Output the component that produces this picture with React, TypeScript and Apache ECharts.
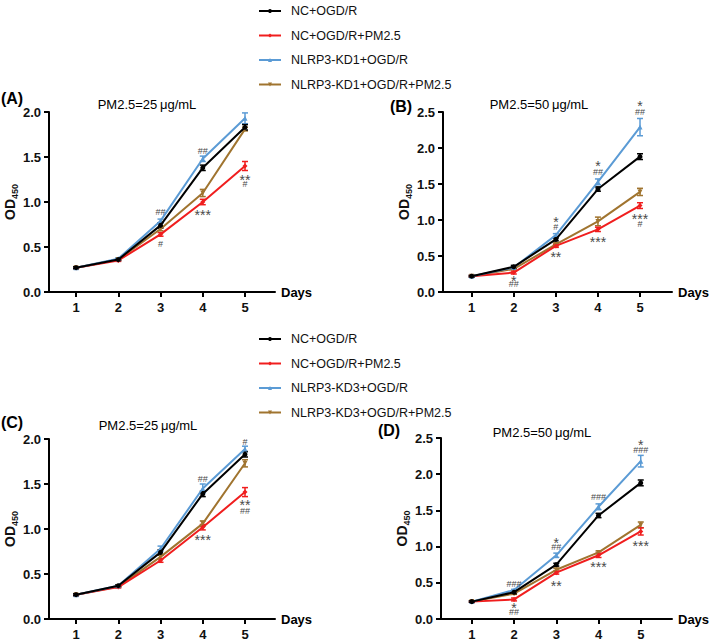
import React, { useEffect, useRef } from "react";
import * as echarts from "echarts";

const days = [1, 2, 3, 4, 5];
const dayTicks = [1, 2, 3, 4, 5];
const namesKD1 = ["NC+OGD/R", "NC+OGD/R+PM2.5", "NLRP3-KD1+OGD/R", "NLRP3-KD1+OGD/R+PM2.5"];
const namesKD3 = ["NC+OGD/R", "NC+OGD/R+PM2.5", "NLRP3-KD3+OGD/R", "NLRP3-KD3+OGD/R+PM2.5"];
const colors = ["#000000", "#f01e1e", "#5b9bd5", "#a0742f"];
const panelLetters = ["(A)", "(B)", "(C)", "(D)"];
const panelTitles = ["PM2.5=25\u2009μg/mL", "PM2.5=50\u2009μg/mL", "PM2.5=25\u2009μg/mL", "PM2.5=50\u2009μg/mL"];
const yMaxes = [2.0, 2.5, 2.0, 2.5];

// Panel A values (NC, NC+PM, KD, KD+PM)
const aNC = [0.27, 0.36, 0.74, 1.38, 1.83];
const aNCPM = [0.27, 0.35, 0.64, 1.0, 1.4];
const aKD = [0.27, 0.37, 0.79, 1.48, 1.93];
const aKDPM = [0.27, 0.36, 0.7, 1.1, 1.81];
const aErrNC = [0.01, 0.01, 0.03, 0.03, 0.03];
const aErrNCPM = [0.01, 0.01, 0.02, 0.03, 0.05];
const aErrKD = [0.01, 0.01, 0.02, 0.03, 0.06];
const aErrKDPM = [0.01, 0.01, 0.02, 0.04, 0.02];

// Panel B
const bNC = [0.22, 0.35, 0.73, 1.43, 1.88];
const bNCPM = [0.22, 0.27, 0.64, 0.87, 1.2];
const bKD = [0.22, 0.34, 0.79, 1.53, 2.29];
const bKDPM = [0.22, 0.32, 0.66, 0.98, 1.39];
const bErrNC = [0.01, 0.02, 0.02, 0.03, 0.04];
const bErrNCPM = [0.01, 0.02, 0.02, 0.03, 0.04];
const bErrKD = [0.01, 0.01, 0.02, 0.04, 0.12];
const bErrKDPM = [0.01, 0.01, 0.02, 0.06, 0.05];

// Panel C
const cNC = [0.27, 0.37, 0.74, 1.39, 1.83];
const cNCPM = [0.27, 0.355, 0.65, 1.02, 1.41];
const cKD = [0.27, 0.37, 0.78, 1.45, 1.89];
const cKDPM = [0.27, 0.36, 0.69, 1.06, 1.73];
const cErrNC = [0.01, 0.01, 0.03, 0.03, 0.03];
const cErrNCPM = [0.01, 0.01, 0.02, 0.03, 0.05];
const cErrKD = [0.01, 0.01, 0.03, 0.05, 0.03];
const cErrKDPM = [0.01, 0.01, 0.02, 0.03, 0.04];

// Panel D
const dNC = [0.24, 0.37, 0.75, 1.43, 1.88];
const dNCPM = [0.24, 0.27, 0.64, 0.88, 1.21];
const dKD = [0.24, 0.4, 0.88, 1.55, 2.18];
const dKDPM = [0.24, 0.35, 0.68, 0.92, 1.3];
const dErrNC = [0.01, 0.02, 0.02, 0.03, 0.04];
const dErrNCPM = [0.01, 0.02, 0.02, 0.03, 0.05];
const dErrKD = [0.01, 0.01, 0.03, 0.04, 0.08];
const dErrKDPM = [0.01, 0.01, 0.02, 0.02, 0.04];

// Significance marks: [day, OD, text]
const annA: [number, number, string][] = [
  [3, 0.885, "##"], [3, 0.53, "#"], [4, 1.57, "##"], [4, 0.89, "***"], [5, 1.28, "**"], [5, 1.2, "#"],
];
const annB: [number, number, string][] = [
  [2, 0.195, "*"], [2, 0.107, "##"], [3, 1.02, "*"], [3, 0.906, "#"], [3, 0.525, "**"],
  [4, 1.79, "*"], [4, 1.67, "##"], [4, 0.743, "***"], [5, 2.62, "*"], [5, 2.5, "##"], [5, 1.06, "***"], [5, 0.95, "#"],
];
const annC: [number, number, string][] = [
  [4, 1.555, "##"], [4, 0.91, "***"], [5, 1.97, "#"], [5, 1.3, "**"], [5, 1.2, "##"],
];
const annD: [number, number, string][] = [
  [2, 0.484, "###"], [2, 0.19, "*"], [2, 0.09, "##"], [3, 1.09, "*"], [3, 0.99, "##"], [3, 0.5, "**"],
  [4, 1.68, "###"], [4, 0.76, "***"], [5, 2.445, "*"], [5, 2.34, "###"], [5, 1.056, "***"],
];

const panels = [
  { vals: [aNC, aNCPM, aKD, aKDPM], errs: [aErrNC, aErrNCPM, aErrKD, aErrKDPM], ann: annA, names: namesKD1 },
  { vals: [bNC, bNCPM, bKD, bKDPM], errs: [bErrNC, bErrNCPM, bErrKD, bErrKDPM], ann: annB, names: namesKD1 },
  { vals: [cNC, cNCPM, cKD, cKDPM], errs: [cErrNC, cErrNCPM, cErrKD, cErrKDPM], ann: annC, names: namesKD3 },
  { vals: [dNC, dNCPM, dKD, dKDPM], errs: [dErrNC, dErrNCPM, dErrKD, dErrKDPM], ann: annD, names: namesKD3 },
];

// Layout (pixels)
const grids = [
  { left: 49, top: 112, width: 226, height: 180, xMin: 0.36, xMax: 5.71 },
  { left: 443, top: 112, width: 229, height: 180, xMin: 0.318, xMax: 5.76 },
  { left: 49, top: 439, width: 226, height: 180, xMin: 0.36, xMax: 5.71 },
  { left: 441, top: 438, width: 231, height: 181, xMin: 0.27, xMax: 5.74 },
];
const letterPos = [[12, 98], [401, 106], [12, 422], [389, 430]];
const titlePos = [[147, 104], [539, 104], [148, 425], [542, 432]];

const symbols = ["circle", "diamond", "triangle", "path://M0,0 L10,0 L5,9 Z"];
const symbolSizes = [5, 5, 5, 5];
const drawOrder = [3, 1, 2, 0];
const FONT = "Liberation Sans, Arial, sans-serif";

export default function App() {
  const ref = useRef<HTMLDivElement>(null);
  useEffect(() => {
    if (!ref.current) return;
    const chart = echarts.init(ref.current, undefined, { renderer: "svg" });

    const gridOpt = grids.map((g) => ({
      left: g.left, top: g.top, width: g.width, height: g.height,
      containLabel: false, outerBoundsMode: "none",
    }));
    const xAxes = grids.map((g, i) => ({
      type: "value", gridIndex: i, min: g.xMin, max: g.xMax,
      name: "Days", nameLocation: "end", nameGap: 6,
      nameTextStyle: { fontFamily: FONT, fontWeight: "bold", fontSize: 13, color: "#000", verticalAlign: "middle" },
      axisLine: { show: true, onZero: false, lineStyle: { color: "#000", width: 2 } },
      axisTick: { show: true, length: 5, lineStyle: { color: "#000", width: 2 }, customValues: dayTicks },
      axisLabel: { show: true, customValues: dayTicks, margin: 9, fontFamily: FONT, fontWeight: "bold", fontSize: 13, color: "#111", formatter: (v: number) => String(v) },
      splitLine: { show: false },
    }));
    const yAxes = grids.map((g, i) => ({
      type: "value", gridIndex: i, min: 0, max: yMaxes[i], interval: 0.5,
      name: "{a|OD}{b|450}", nameLocation: "middle", nameGap: 30, nameRotate: 90,
      nameTextStyle: {
        rich: {
          a: { fontFamily: FONT, fontWeight: "bold", fontSize: 14, color: "#111", lineHeight: 18, verticalAlign: "middle" },
          b: { fontFamily: FONT, fontWeight: "bold", fontSize: 9, color: "#111", lineHeight: 18, verticalAlign: "bottom", padding: [6, 0, 0, 0] },
        },
      },
      axisLine: { show: true, onZero: false, lineStyle: { color: "#000", width: 2 } },
      axisTick: { show: true, length: 5, lineStyle: { color: "#000", width: 2 } },
      axisLabel: { margin: 8, fontFamily: FONT, fontWeight: "bold", fontSize: 13, color: "#111", formatter: (v: number) => v.toFixed(1) },
      splitLine: { show: false },
    }));

    const series: any[] = [];
    panels.forEach((p, pi) => {
      const errData: number[][] = [];
      drawOrder.forEach((si) => {
        days.forEach((d, di) => errData.push([d, p.vals[si][di], p.errs[si][di], si]));
      });
      series.push({
        type: "custom", xAxisIndex: pi, yAxisIndex: pi, data: errData, z: 3, silent: true,
        encode: { x: 0, y: 1 },
        renderItem: (_params: any, api: any) => {
          const x = api.value(0), y = api.value(1), e = api.value(2), c = api.value(3);
          const hi = api.coord([x, y + e]);
          const lo = api.coord([x, y - e]);
          const st = { stroke: colors[c], lineWidth: 1.5 };
          const w = 3;
          return {
            type: "group",
            children: [
              { type: "line", shape: { x1: hi[0], y1: hi[1], x2: lo[0], y2: lo[1] }, style: st },
              { type: "line", shape: { x1: hi[0] - w, y1: hi[1], x2: hi[0] + w, y2: hi[1] }, style: st },
              { type: "line", shape: { x1: lo[0] - w, y1: lo[1], x2: lo[0] + w, y2: lo[1] }, style: st },
            ],
          };
        },
      });
      drawOrder.forEach((si, k) => {
        series.push({
          type: "line", name: p.names[si], xAxisIndex: pi, yAxisIndex: pi,
          data: days.map((d, di) => [d, p.vals[si][di]]),
          symbol: symbols[si], symbolSize: symbolSizes[si], showSymbol: true,
          lineStyle: { color: colors[si], width: 2 },
          itemStyle: { color: colors[si], borderWidth: 0 },
          z: 4 + k, silent: true,
        });
      });
      const ann = p.ann;
      series.push({
        type: "custom", xAxisIndex: pi, yAxisIndex: pi, z: 10, silent: true,
        data: ann.map((a) => [a[0], a[1]]),
        encode: { x: 0, y: 1 },
        renderItem: (params: any, api: any) => {
          const pt = api.coord([api.value(0), api.value(1)]);
          const txt = ann[params.dataIndex][2];
          const star = txt.indexOf("*") >= 0;
          return {
            type: "text", x: pt[0], y: pt[1] + (star ? 3 : 0),
            style: {
              text: txt, fill: "#4a4a4a", align: "center", verticalAlign: "middle",
              font: (star ? "14px " : "9px ") + FONT,
            },
          };
        },
      });
    });

    const graphics: any[] = [];
    letterPos.forEach((lp, i) => {
      graphics.push({
        type: "text", x: lp[0], y: lp[1],
        style: { text: panelLetters[i], fill: "#000", font: "bold 16px " + FONT, align: "center", verticalAlign: "middle" },
      });
    });
    titlePos.forEach((tp, i) => {
      graphics.push({
        type: "text", x: tp[0], y: tp[1],
        style: { text: panelTitles[i], fill: "#000", font: "13px " + FONT, align: "center", verticalAlign: "middle" },
      });
    });

    const legendBase = {
      orient: "vertical", left: 253, itemWidth: 22, itemHeight: 5, itemGap: 10.5,
      textStyle: { fontFamily: FONT, fontSize: 12.5, color: "#111", lineHeight: 14, padding: [0, 0, 0, 5] },
      selectedMode: false,
    };

    chart.setOption({
      animation: false,
      backgroundColor: "#fff",
      grid: gridOpt,
      xAxis: xAxes,
      yAxis: yAxes,
      legend: [
        { ...legendBase, top: -1, data: namesKD1 },
        { ...legendBase, top: 327, data: namesKD3 },
      ],
      graphic: graphics,
      series,
    });
    return () => chart.dispose();
  }, []);
  return <div ref={ref} style={{ position: "fixed", left: 0, top: 0, width: 709, height: 643 }} />;
}
